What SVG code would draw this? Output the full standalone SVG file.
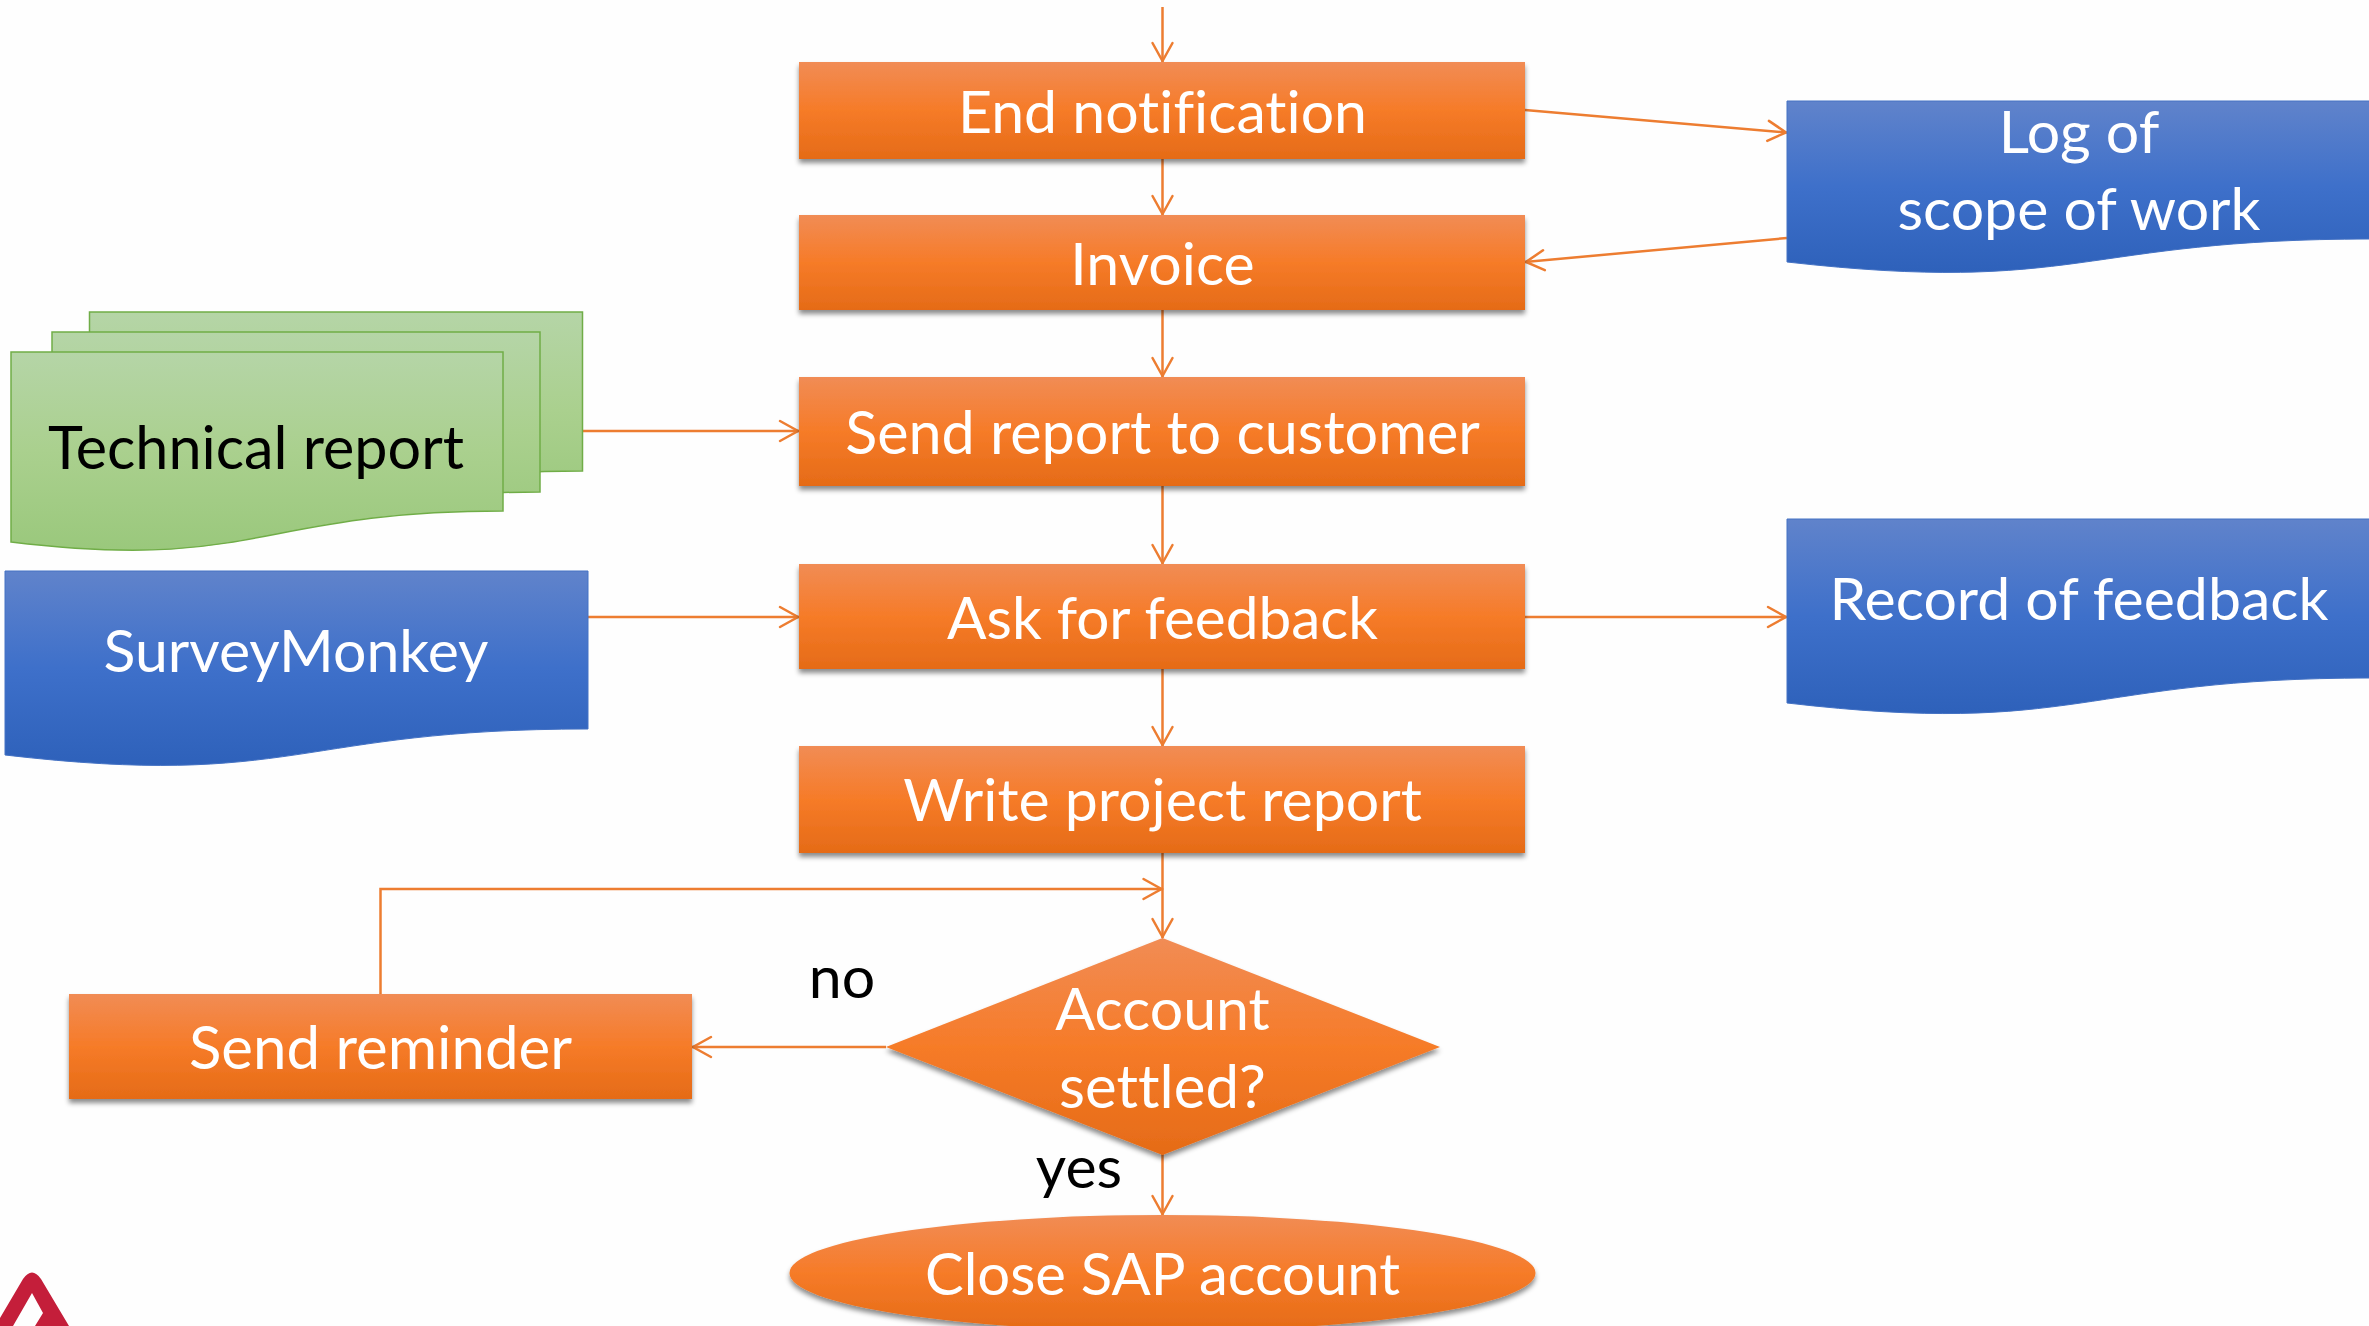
<svg xmlns="http://www.w3.org/2000/svg" width="2369" height="1326" viewBox="0 0 2369 1326">
<style>
text{font-family:Lato,"Liberation Sans",sans-serif;font-size:59px;text-anchor:middle;font-variant-ligatures:none}
.w{fill:#fff}.k{fill:#000}
.o{fill:url(#og);filter:url(#sh)}
.b{fill:url(#bg);stroke:#4472C4;stroke-width:1}
.g{fill:url(#gg);stroke:#70AD47;stroke-width:1.500}
.c{fill:none;stroke:#ED7D31;stroke-width:2.500}
.a{marker-end:url(#ah)}
</style>
<defs>
<linearGradient id="og" x1="0" y1="0" x2="0" y2="1"><stop offset="0" stop-color="#F18C55"/><stop offset=".5" stop-color="#F67B28"/><stop offset="1" stop-color="#E56B17"/></linearGradient>
<linearGradient id="bg" x1="0" y1="0" x2="0" y2="1"><stop offset="0" stop-color="#6083CB"/><stop offset=".5" stop-color="#3E70CA"/><stop offset="1" stop-color="#2E61BA"/></linearGradient>
<linearGradient id="gg" x1="0" y1="0" x2="0" y2="1"><stop offset="0" stop-color="#B5D5A7"/><stop offset=".5" stop-color="#AAD08E"/><stop offset="1" stop-color="#9AC87C"/></linearGradient>
<filter id="sh" x="-5%" y="-10%" width="110%" height="125%"><feDropShadow dx="0" dy="4" stdDeviation="2.500" flood-color="#000" flood-opacity=".45"/></filter>
<marker id="ah" markerUnits="userSpaceOnUse" markerWidth="24" markerHeight="26" refX="21" refY="12" orient="auto"><path d="M2,2 L20,12 L2,22" fill="none" stroke="#ED7D31" stroke-width="2.500" stroke-linecap="round"/></marker>
</defs>
<rect width="2369" height="1326" fill="#FEFEFE"/>
<path id="logo" fill="#C41E3A" fill-rule="evenodd" d="M0,1318 L23,1279 Q32,1266 41,1279 L69,1326 L0,1326 Z M32,1293 L13,1326 L35,1326 L43,1313 Z"/>
<g id="connectors">
<path class="c a" d="M1162.500,7 V62"/>
<path class="c a" d="M1162.500,159 V215"/>
<path class="c a" d="M1162.500,310 V377"/>
<path class="c a" d="M1162.500,486 V564"/>
<path class="c a" d="M1162.500,669 V746"/>
<path class="c a" d="M1162.500,853 V938"/>
<path class="c a" d="M380.500,994 V889 H1162.500"/>
<path class="c a" d="M886,1047 H692"/>
<path class="c a" d="M1162.500,1154 V1215"/>
<path class="c a" d="M583,431 H799"/>
<path class="c a" d="M588,617 H799"/>
<path class="c a" d="M1525,110 L1787,132.500"/>
<path class="c a" d="M1787,238 L1525,262"/>
<path class="c a" d="M1525,617 H1787"/>
</g>
<g id="end-notification"><rect class="o" x="799" y="62" width="726" height="97"/><text class="w" x="1162.500" y="133">End notification</text></g>
<g id="invoice"><rect class="o" x="799" y="215" width="726" height="95"/><text class="w" x="1162.500" y="285">Invoice</text></g>
<g id="send-report"><rect class="o" x="799" y="377" width="726" height="109"/><text class="w" x="1162.500" y="454" style="font-size:59.300px">Send report to customer</text></g>
<g id="ask-feedback"><rect class="o" x="799" y="564" width="726" height="105"/><text class="w" x="1162.500" y="639" style="font-size:58.500px">Ask for feedback</text></g>
<g id="write-report"><rect class="o" x="799" y="746" width="726" height="107"/><text class="w" x="1162.500" y="821">Write project report</text></g>
<g id="send-reminder"><rect class="o" x="69" y="994" width="623" height="105"/><text class="w" x="380.500" y="1069" style="font-size:60px">Send reminder</text></g>
<g id="account-settled"><path class="o" d="M1162.500,938 L1440,1047 L1162.500,1155 L886,1047 Z"/><text class="w" x="1162.500" y="1030">Account</text><text class="w" x="1162.500" y="1108" style="font-size:60px">settled?</text></g>
<g id="close-sap"><ellipse class="o" cx="1162.500" cy="1273" rx="373" ry="58"/><text class="w" x="1162.500" y="1295" style="font-size:58px">Close SAP account</text></g>
<g id="technical-report">
<path class="g" d="M89.500,312 H582.500 V471 C336,471 336,532 89.500,502 Z"/>
<path class="g" d="M52,332 H540 V492 C296,492 296,553 52,523 Z"/>
<path class="g" d="M11,352 H503 V511 C257,511 257,572 11,542 Z"/>
<text class="k" x="256" y="469" style="font-size:59.300px">Technical report</text>
</g>
<g id="surveymonkey"><path class="b" d="M5,571 H588 V729 C296,729 296,789 5,755 Z"/><text class="w" x="296" y="672">SurveyMonkey</text></g>
<g id="log-scope"><path class="b" d="M1787,101 H2371 V239 C2079,239 2079,295 1787,262 Z"/><text class="w" x="2079" y="153">Log of</text><text class="w" x="2079" y="230">scope of work</text></g>
<g id="record-feedback"><path class="b" d="M1787,519 H2371 V678 C2079,678 2079,737 1787,703 Z"/><text class="w" x="2079" y="620">Record of feedback</text></g>
<text class="k" x="842" y="998">no</text>
<text class="k" x="1079" y="1188">yes</text>
</svg>
